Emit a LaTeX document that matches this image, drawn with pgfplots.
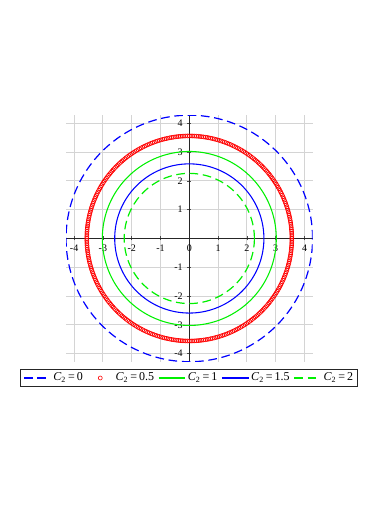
\documentclass[border=0pt]{standalone}
\usepackage{fontspec}
\setmainfont{Liberation Serif}
\usepackage{pgfplots}
\usepackage{pgfplotstable}
\pgfplotsset{compat=1.18}
\definecolor{mblue}{RGB}{0,0,255}
\definecolor{mgreen}{RGB}{0,240,0}
\definecolor{mred}{RGB}{255,0,0}
\pgfplotstableread{
a r0 r05 r1 r15 r2
0 4.28 3.56 3.02 2.59 2.26
2 4.28 3.56 3.02 2.59 2.26
4 4.28 3.56 3.02 2.59 2.26
6 4.28 3.56 3.02 2.59 2.26
8 4.28 3.56 3.02 2.59 2.26
10 4.28 3.56 3.02 2.59 2.26
12 4.28 3.56 3.02 2.59 2.26
14 4.28 3.56 3.02 2.59 2.26
16 4.28 3.56 3.02 2.59 2.26
18 4.28 3.56 3.02 2.59 2.26
20 4.28 3.56 3.02 2.59 2.26
22 4.28 3.56 3.02 2.59 2.26
24 4.28 3.56 3.02 2.59 2.26
26 4.28 3.56 3.02 2.59 2.26
28 4.28 3.56 3.02 2.59 2.26
30 4.28 3.56 3.02 2.59 2.26
32 4.28 3.56 3.02 2.59 2.26
34 4.28 3.56 3.02 2.59 2.26
36 4.28 3.56 3.02 2.59 2.26
38 4.28 3.56 3.02 2.59 2.26
40 4.28 3.56 3.02 2.59 2.26
42 4.28 3.56 3.02 2.59 2.26
44 4.28 3.56 3.02 2.59 2.26
46 4.28 3.56 3.02 2.59 2.26
48 4.28 3.56 3.02 2.59 2.26
50 4.28 3.56 3.02 2.59 2.26
52 4.28 3.56 3.02 2.59 2.26
54 4.28 3.56 3.02 2.59 2.26
56 4.28 3.56 3.02 2.59 2.26
58 4.28 3.56 3.02 2.59 2.26
60 4.28 3.56 3.02 2.59 2.26
62 4.28 3.56 3.02 2.59 2.26
64 4.28 3.56 3.02 2.59 2.26
66 4.28 3.56 3.02 2.59 2.26
68 4.28 3.56 3.02 2.59 2.26
70 4.28 3.56 3.02 2.59 2.26
72 4.28 3.56 3.02 2.59 2.26
74 4.28 3.56 3.02 2.59 2.26
76 4.28 3.56 3.02 2.59 2.26
78 4.28 3.56 3.02 2.59 2.26
80 4.28 3.56 3.02 2.59 2.26
82 4.28 3.56 3.02 2.59 2.26
84 4.28 3.56 3.02 2.59 2.26
86 4.28 3.56 3.02 2.59 2.26
88 4.28 3.56 3.02 2.59 2.26
90 4.28 3.56 3.02 2.59 2.26
92 4.28 3.56 3.02 2.59 2.26
94 4.28 3.56 3.02 2.59 2.26
96 4.28 3.56 3.02 2.59 2.26
98 4.28 3.56 3.02 2.59 2.26
100 4.28 3.56 3.02 2.59 2.26
102 4.28 3.56 3.02 2.59 2.26
104 4.28 3.56 3.02 2.59 2.26
106 4.28 3.56 3.02 2.59 2.26
108 4.28 3.56 3.02 2.59 2.26
110 4.28 3.56 3.02 2.59 2.26
112 4.28 3.56 3.02 2.59 2.26
114 4.28 3.56 3.02 2.59 2.26
116 4.28 3.56 3.02 2.59 2.26
118 4.28 3.56 3.02 2.59 2.26
120 4.28 3.56 3.02 2.59 2.26
122 4.28 3.56 3.02 2.59 2.26
124 4.28 3.56 3.02 2.59 2.26
126 4.28 3.56 3.02 2.59 2.26
128 4.28 3.56 3.02 2.59 2.26
130 4.28 3.56 3.02 2.59 2.26
132 4.28 3.56 3.02 2.59 2.26
134 4.28 3.56 3.02 2.59 2.26
136 4.28 3.56 3.02 2.59 2.26
138 4.28 3.56 3.02 2.59 2.26
140 4.28 3.56 3.02 2.59 2.26
142 4.28 3.56 3.02 2.59 2.26
144 4.28 3.56 3.02 2.59 2.26
146 4.28 3.56 3.02 2.59 2.26
148 4.28 3.56 3.02 2.59 2.26
150 4.28 3.56 3.02 2.59 2.26
152 4.28 3.56 3.02 2.59 2.26
154 4.28 3.56 3.02 2.59 2.26
156 4.28 3.56 3.02 2.59 2.26
158 4.28 3.56 3.02 2.59 2.26
160 4.28 3.56 3.02 2.59 2.26
162 4.28 3.56 3.02 2.59 2.26
164 4.28 3.56 3.02 2.59 2.26
166 4.28 3.56 3.02 2.59 2.26
168 4.28 3.56 3.02 2.59 2.26
170 4.28 3.56 3.02 2.59 2.26
172 4.28 3.56 3.02 2.59 2.26
174 4.28 3.56 3.02 2.59 2.26
176 4.28 3.56 3.02 2.59 2.26
178 4.28 3.56 3.02 2.59 2.26
180 4.28 3.56 3.02 2.59 2.26
182 4.28 3.56 3.02 2.59 2.26
184 4.28 3.56 3.02 2.59 2.26
186 4.28 3.56 3.02 2.59 2.26
188 4.28 3.56 3.02 2.59 2.26
190 4.28 3.56 3.02 2.59 2.26
192 4.28 3.56 3.02 2.59 2.26
194 4.28 3.56 3.02 2.59 2.26
196 4.28 3.56 3.02 2.59 2.26
198 4.28 3.56 3.02 2.59 2.26
200 4.28 3.56 3.02 2.59 2.26
202 4.28 3.56 3.02 2.59 2.26
204 4.28 3.56 3.02 2.59 2.26
206 4.28 3.56 3.02 2.59 2.26
208 4.28 3.56 3.02 2.59 2.26
210 4.28 3.56 3.02 2.59 2.26
212 4.28 3.56 3.02 2.59 2.26
214 4.28 3.56 3.02 2.59 2.26
216 4.28 3.56 3.02 2.59 2.26
218 4.28 3.56 3.02 2.59 2.26
220 4.28 3.56 3.02 2.59 2.26
222 4.28 3.56 3.02 2.59 2.26
224 4.28 3.56 3.02 2.59 2.26
226 4.28 3.56 3.02 2.59 2.26
228 4.28 3.56 3.02 2.59 2.26
230 4.28 3.56 3.02 2.59 2.26
232 4.28 3.56 3.02 2.59 2.26
234 4.28 3.56 3.02 2.59 2.26
236 4.28 3.56 3.02 2.59 2.26
238 4.28 3.56 3.02 2.59 2.26
240 4.28 3.56 3.02 2.59 2.26
242 4.28 3.56 3.02 2.59 2.26
244 4.28 3.56 3.02 2.59 2.26
246 4.28 3.56 3.02 2.59 2.26
248 4.28 3.56 3.02 2.59 2.26
250 4.28 3.56 3.02 2.59 2.26
252 4.28 3.56 3.02 2.59 2.26
254 4.28 3.56 3.02 2.59 2.26
256 4.28 3.56 3.02 2.59 2.26
258 4.28 3.56 3.02 2.59 2.26
260 4.28 3.56 3.02 2.59 2.26
262 4.28 3.56 3.02 2.59 2.26
264 4.28 3.56 3.02 2.59 2.26
266 4.28 3.56 3.02 2.59 2.26
268 4.28 3.56 3.02 2.59 2.26
270 4.28 3.56 3.02 2.59 2.26
272 4.28 3.56 3.02 2.59 2.26
274 4.28 3.56 3.02 2.59 2.26
276 4.28 3.56 3.02 2.59 2.26
278 4.28 3.56 3.02 2.59 2.26
280 4.28 3.56 3.02 2.59 2.26
282 4.28 3.56 3.02 2.59 2.26
284 4.28 3.56 3.02 2.59 2.26
286 4.28 3.56 3.02 2.59 2.26
288 4.28 3.56 3.02 2.59 2.26
290 4.28 3.56 3.02 2.59 2.26
292 4.28 3.56 3.02 2.59 2.26
294 4.28 3.56 3.02 2.59 2.26
296 4.28 3.56 3.02 2.59 2.26
298 4.28 3.56 3.02 2.59 2.26
300 4.28 3.56 3.02 2.59 2.26
302 4.28 3.56 3.02 2.59 2.26
304 4.28 3.56 3.02 2.59 2.26
306 4.28 3.56 3.02 2.59 2.26
308 4.28 3.56 3.02 2.59 2.26
310 4.28 3.56 3.02 2.59 2.26
312 4.28 3.56 3.02 2.59 2.26
314 4.28 3.56 3.02 2.59 2.26
316 4.28 3.56 3.02 2.59 2.26
318 4.28 3.56 3.02 2.59 2.26
320 4.28 3.56 3.02 2.59 2.26
322 4.28 3.56 3.02 2.59 2.26
324 4.28 3.56 3.02 2.59 2.26
326 4.28 3.56 3.02 2.59 2.26
328 4.28 3.56 3.02 2.59 2.26
330 4.28 3.56 3.02 2.59 2.26
332 4.28 3.56 3.02 2.59 2.26
334 4.28 3.56 3.02 2.59 2.26
336 4.28 3.56 3.02 2.59 2.26
338 4.28 3.56 3.02 2.59 2.26
340 4.28 3.56 3.02 2.59 2.26
342 4.28 3.56 3.02 2.59 2.26
344 4.28 3.56 3.02 2.59 2.26
346 4.28 3.56 3.02 2.59 2.26
348 4.28 3.56 3.02 2.59 2.26
350 4.28 3.56 3.02 2.59 2.26
352 4.28 3.56 3.02 2.59 2.26
354 4.28 3.56 3.02 2.59 2.26
356 4.28 3.56 3.02 2.59 2.26
358 4.28 3.56 3.02 2.59 2.26
360 4.28 3.56 3.02 2.59 2.26
}\circles
\pgfplotstableread{
b r05
1 3.56
3 3.56
5 3.56
7 3.56
9 3.56
11 3.56
13 3.56
15 3.56
17 3.56
19 3.56
21 3.56
23 3.56
25 3.56
27 3.56
29 3.56
31 3.56
33 3.56
35 3.56
37 3.56
39 3.56
41 3.56
43 3.56
45 3.56
47 3.56
49 3.56
51 3.56
53 3.56
55 3.56
57 3.56
59 3.56
61 3.56
63 3.56
65 3.56
67 3.56
69 3.56
71 3.56
73 3.56
75 3.56
77 3.56
79 3.56
81 3.56
83 3.56
85 3.56
87 3.56
89 3.56
91 3.56
93 3.56
95 3.56
97 3.56
99 3.56
101 3.56
103 3.56
105 3.56
107 3.56
109 3.56
111 3.56
113 3.56
115 3.56
117 3.56
119 3.56
121 3.56
123 3.56
125 3.56
127 3.56
129 3.56
131 3.56
133 3.56
135 3.56
137 3.56
139 3.56
141 3.56
143 3.56
145 3.56
147 3.56
149 3.56
151 3.56
153 3.56
155 3.56
157 3.56
159 3.56
161 3.56
163 3.56
165 3.56
167 3.56
169 3.56
171 3.56
173 3.56
175 3.56
177 3.56
179 3.56
181 3.56
183 3.56
185 3.56
187 3.56
189 3.56
191 3.56
193 3.56
195 3.56
197 3.56
199 3.56
201 3.56
203 3.56
205 3.56
207 3.56
209 3.56
211 3.56
213 3.56
215 3.56
217 3.56
219 3.56
221 3.56
223 3.56
225 3.56
227 3.56
229 3.56
231 3.56
233 3.56
235 3.56
237 3.56
239 3.56
241 3.56
243 3.56
245 3.56
247 3.56
249 3.56
251 3.56
253 3.56
255 3.56
257 3.56
259 3.56
261 3.56
263 3.56
265 3.56
267 3.56
269 3.56
271 3.56
273 3.56
275 3.56
277 3.56
279 3.56
281 3.56
283 3.56
285 3.56
287 3.56
289 3.56
291 3.56
293 3.56
295 3.56
297 3.56
299 3.56
301 3.56
303 3.56
305 3.56
307 3.56
309 3.56
311 3.56
313 3.56
315 3.56
317 3.56
319 3.56
321 3.56
323 3.56
325 3.56
327 3.56
329 3.56
331 3.56
333 3.56
335 3.56
337 3.56
339 3.56
341 3.56
343 3.56
345 3.56
347 3.56
349 3.56
351 3.56
353 3.56
355 3.56
357 3.56
359 3.56
}\redextra
\begin{document}
\begin{tikzpicture}
\useasboundingbox (0,0) rectangle (292.5pt,378.75pt);
\begin{axis}[
  at={(141.98pt,199.9pt)}, anchor=origin,
  x=21.6pt, y=21.6pt,
  xmin=-4.28, xmax=4.28, ymin=-4.28, ymax=4.28,
  axis lines=middle,
  axis line style={-, black!85, line width=0.6pt},
  hide obscured x ticks=false,
  xtick={-4,-3,-2,-1,0,1,2,3,4},
  ytick={-4,-3,-2,-1,1,2,3,4},
  grid=major,
  major grid style={black!17, line width=0.8pt},
  tick style={black!70, line width=0.5pt},
  major tick length=3pt,
  ticklabel style={font=\fontsize{7.5}{7.5}\selectfont},
  /pgf/number format/assume math mode=true,
  legend columns=5,
  legend image code/.code={\path[draw=none,fill=none] (0pt,0pt) (20pt,0pt);\draw[mark repeat=2,mark phase=2,#1] plot coordinates {(0pt,0pt) (10pt,0pt) (20pt,0pt)};},
  legend style={at={(0.5,-0.066)}, anchor=center, draw=black!85, line width=0.6pt,
    font=\fontsize{9}{9}\selectfont, inner xsep=2pt, inner ysep=1pt,
    nodes={inner xsep=1.5pt, inner ysep=1.5pt},
    /tikz/every even column/.append style={column sep=1.5pt}},
]
\addplot[data cs=polar, mblue, line width=0.9pt, dash pattern=on 6.5pt off 3.5pt] table[x=a,y=r0] {\circles};
\addlegendentry{\textit{C}\textsubscript{2}\,=\,0}
\addplot[data cs=polar, mred, only marks, mark=o, mark size=1.5pt, mark options={line width=0.45pt}] table[x=a,y=r05] {\circles};
\addlegendentry{\textit{C}\textsubscript{2}\,=\,0.5}
\addplot[forget plot, data cs=polar, mred, only marks, mark=o, mark size=1.5pt, mark options={line width=0.45pt}] table[x=b,y=r05] {\redextra};
\addplot[data cs=polar, mgreen, line width=0.8pt] table[x=a,y=r1] {\circles};
\addlegendentry{\textit{C}\textsubscript{2}\,=\,1}
\addplot[data cs=polar, mblue, line width=0.8pt] table[x=a,y=r15] {\circles};
\addlegendentry{\textit{C}\textsubscript{2}\,=\,1.5}
\addplot[data cs=polar, mgreen, line width=0.9pt, dash pattern=on 6.5pt off 3.5pt] table[x=a,y=r2] {\circles};
\addlegendentry{\textit{C}\textsubscript{2}\,=\,2}
\end{axis}
\end{tikzpicture}
\end{document}
